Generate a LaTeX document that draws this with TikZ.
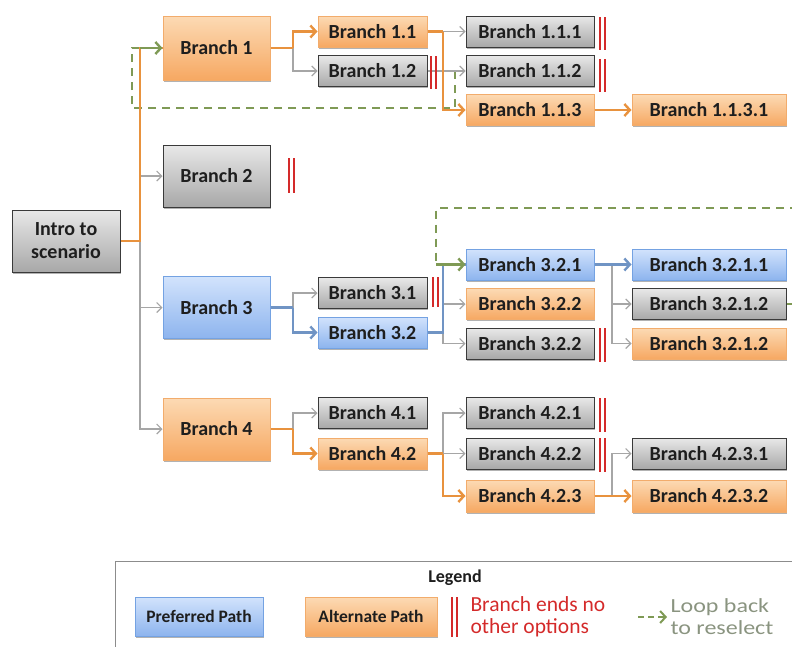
\documentclass[tikz,border=0pt]{standalone}
\usepackage{fontspec}
\setmainfont{Carlito}
\newfontfamily\widefont[FakeStretch=1.2]{Carlito}
\usetikzlibrary{arrows.meta,shadows}

% palette
\definecolor{orFillTop}{HTML}{FCDAB4}
\definecolor{orFillBot}{HTML}{F6A862}
\definecolor{orDraw}{HTML}{F2AC6C}
\definecolor{grFillTop}{HTML}{E8E8E8}
\definecolor{grFillBot}{HTML}{A8A8A8}
\definecolor{grDraw}{HTML}{3A3A3A}
\definecolor{blFillTop}{HTML}{D2E3FC}
\definecolor{blFillBot}{HTML}{8DB4EE}
\definecolor{blDraw}{HTML}{74A2E2}
\definecolor{orLine}{HTML}{E8923E}
\definecolor{grLine}{HTML}{A6A6A6}
\definecolor{blLine}{HTML}{7094C4}
\definecolor{loopGreen}{HTML}{7F9A55}
\definecolor{loopText}{HTML}{8A9480}
\definecolor{stopRed}{HTML}{D42A2A}
\definecolor{txt}{HTML}{1E1E1E}

% two red bars: a branch that ends here
\newcommand\stopmark[3]{\draw[stopbar] (#1-2.4,#2) -- (#1-2.4,#3) (#1+2.4,#2) -- (#1+2.4,#3);}

\tikzset{
  box/.style={rectangle, inner sep=0pt, line width=1pt, text=txt, align=center,
    font=\fontsize{20}{23}\selectfont\bfseries,
    drop shadow={shadow xshift=1.2pt, shadow yshift=-1.8pt, opacity=0.3, fill=black}},
  orbox/.style={box, draw=orDraw, top color=orFillTop, bottom color=orFillBot},
  grbox/.style={box, draw=grDraw, top color=grFillTop, bottom color=grFillBot},
  blbox/.style={box, draw=blDraw, top color=blFillTop, bottom color=blFillBot},
  lvA/.style={minimum width=107pt, minimum height=62pt},
  lvB/.style={minimum width=109pt, minimum height=31pt},
  lvC/.style={minimum width=128pt, minimum height=31pt},
  lvD/.style={minimum width=154pt, minimum height=31pt},
  tipT/.style={-{Straight Barb[length=5pt,width=10pt]}},
  tipW/.style={-{Straight Barb[length=5.5pt,width=12pt]}},
  arrG/.style={draw=grLine, line width=1.1pt, tipT},
  linO/.style={draw=orLine, line width=2.4pt},
  arrO/.style={linO, tipW},
  linB/.style={draw=blLine, line width=2.4pt},
  arrB/.style={linB, tipW},
  loopdash/.style={draw=loopGreen, line width=2pt, dash pattern=on 8pt off 6pt},
  arrL/.style={draw=loopGreen, line width=2.4pt, tipW},
  stopbar/.style={draw=stopRed, line width=1.5pt},
  legtext/.style={anchor=west, align=left, font=\fontsize{21.5}{22}\selectfont},
}

\begin{document}
\begin{tikzpicture}[x=1pt,y=-1pt]
\useasboundingbox (0,0) rectangle (792,646);
\clip (0,0) rectangle (792,646);

% ---------- nodes ----------
\node[grbox, minimum width=108pt, minimum height=62pt] (intro) at (66,241) {Intro to\\scenario};

\node[orbox, lvA, minimum height=64pt] (b1) at (216.5,48) {Branch 1};
\node[grbox, lvA] (b2) at (216.5,176) {Branch 2};
\node[blbox, lvA] (b3) at (216.5,307.5) {Branch 3};
\node[orbox, lvA] (b4) at (216.5,429) {Branch 4};

\node[orbox, lvB] (b11) at (372.5,31.5) {Branch 1.1};
\node[grbox, lvB] (b12) at (372.5,71) {Branch 1.2};
\node[grbox, lvC] (b111) at (530,31.5) {Branch 1.1.1};
\node[grbox, lvC] (b112) at (530,71) {Branch 1.1.2};
\node[orbox, lvC] (b113) at (530,110) {Branch 1.1.3};
\node[orbox, lvD] (b1131) at (709,110) {Branch 1.1.3.1};

\node[grbox, lvB] (b31) at (372.5,293) {Branch 3.1};
\node[blbox, lvB] (b32) at (372.5,332.5) {Branch 3.2};
\node[blbox, lvC] (b321) at (530,264.5) {Branch 3.2.1};
\node[orbox, lvC] (b322a) at (530,304) {Branch 3.2.2};
\node[grbox, lvC] (b322b) at (530,343.5) {Branch 3.2.2};
\node[blbox, lvD] (b3211) at (709,264.5) {Branch 3.2.1.1};
\node[grbox, lvD] (b3212a) at (709,304) {Branch 3.2.1.2};
\node[orbox, lvD] (b3212b) at (709,343.5) {Branch 3.2.1.2};

\node[grbox, lvB] (b41) at (372.5,413) {Branch 4.1};
\node[orbox, lvB] (b42) at (372.5,453.5) {Branch 4.2};
\node[grbox, lvC] (b421) at (530,413) {Branch 4.2.1};
\node[grbox, lvC] (b422) at (530,453.5) {Branch 4.2.2};
\node[orbox, lvC, minimum height=32pt] (b423) at (530,496) {Branch 4.2.3};
\node[grbox, lvD] (b4231) at (709,453.5) {Branch 4.2.3.1};
\node[orbox, lvD, minimum height=32pt] (b4232) at (709,496) {Branch 4.2.3.2};

% ---------- junction points ----------
\coordinate (jI) at (140,241);
\coordinate (j1) at (293,48);
\coordinate (j11) at (443,31.5);
\coordinate (j3) at (293,307.5);
\coordinate (j32) at (443,332.5);
\coordinate (j321) at (612,264.5);
\coordinate (j4) at (293,429);
\coordinate (j42) at (443,453.5);
\coordinate (j423) at (612,496);
\coordinate (lp1) at (455,71);
\coordinate (lp1c) at (132,108);
\coordinate (lp2r) at (800,208);
\coordinate (lp2) at (436,208);

% ---------- loop-back paths ----------
\draw[loopdash] (lp1) |- (lp1c) |- (b1.west);
\draw[loopdash] (b3212a.east) -| (lp2r) -- (lp2) |- (b321.west);

% ---------- thin (other) options ----------
\draw[arrG] (jI) |- (b4.west);
\draw[arrG] (b2.west -| jI) -- (b2.west);
\draw[arrG] (b3.west -| jI) -- (b3.west);
\draw[arrG] (j1) |- (b12.west);
\draw[arrG] (j11) -- (b111.west);
\draw[draw=grLine, line width=1.1pt] (b12.east) -- (b112.west -| j11);
\draw[arrG] (b112.west -| j11) -- (b112.west);
\draw[arrG] (j3) |- (b31.west);
\draw[arrG] (b322a.west -| j32) -- (b322a.west);
\draw[arrG] (j32) |- (b322b.west);
\draw[arrG] (j321) |- (b3212a.west);
\draw[arrG] (j321) |- (b3212b.west);
\draw[arrG] (j4) |- (b41.west);
\draw[arrG] (j42) |- (b421.west);
\draw[arrG] (j42) -- (b422.west);
\draw[arrG] (j423) |- (b4231.west);

% ---------- alternate (orange) path ----------
\draw[linO] (intro.east) -- (jI) |- (b1.west);
\draw[linO] (b1.east) -- (j1);
\draw[arrO] (j1) |- (b11.west);
\draw[linO] (b11.east) -- (j11);
\draw[arrO] (j11) |- (b113.west);
\draw[arrO] (b113) -- (b1131);
\draw[linO] (b4.east) -- (j4);
\draw[arrO] (j4) |- (b42.west);
\draw[linO] (b42.east) -- (j42);
\draw[arrO] (j42) |- (b423.west);
\draw[arrO] (b423) -- (b4232);

% ---------- preferred (blue) path ----------
\draw[linB] (b3.east) -- (j3);
\draw[arrB] (j3) |- (b32.west);
\draw[linB] (b32.east) -- (j32) |- (b321.west);
\draw[arrB] (b321) -- (b3211);

% ---------- loop-back arrow heads ----------
\draw[arrL] (b1.west -| jI) -- (b1.west);
\draw[arrL] (b321.west -| lp2) -- (b321.west);

% ---------- dead ends ----------
\stopmark{291.5}{158}{193}
\stopmark{433.5}{56}{89}
\stopmark{602.5}{17}{50}
\stopmark{602.5}{59}{92}
\stopmark{435.5}{277}{307}
\stopmark{602.5}{328}{362}
\stopmark{602.5}{398}{432}
\stopmark{602.5}{438}{472}

% ---------- legend ----------
\draw[draw=black!45, line width=1pt] (115,561) rectangle (810,670);
\node[font=\fontsize{18}{21}\selectfont\bfseries, text=txt] (lgtitle) at (455,578) {Legend};
\node[blbox, minimum width=128pt, minimum height=39pt, font=\fontsize{17.5}{20}\selectfont\bfseries] (lgpref) at (199,616.5) {Preferred Path};
\node[orbox, minimum width=132pt, minimum height=39pt, font=\fontsize{17.5}{20}\selectfont\bfseries] (lgalt) at (371,616.5) {Alternate Path};
\stopmark{454.5}{597}{637}
\node[legtext, text=stopRed] (lgstop) at (467,617) {Branch ends no\\other options};
\node[legtext, text=loopText, font=\widefont\fontsize{20}{22}\selectfont] (lgloop) at (667,617) {Loop back\\to reselect};
\coordinate (lgl0) at (638,617);
\draw[loopdash, dash pattern=on 6pt off 4pt] (lgl0) -- (lgloop.west);
\draw[arrL, line width=2pt] ([xshift=-6pt]lgloop.west) -- (lgloop.west);
\end{tikzpicture}
\end{document}
